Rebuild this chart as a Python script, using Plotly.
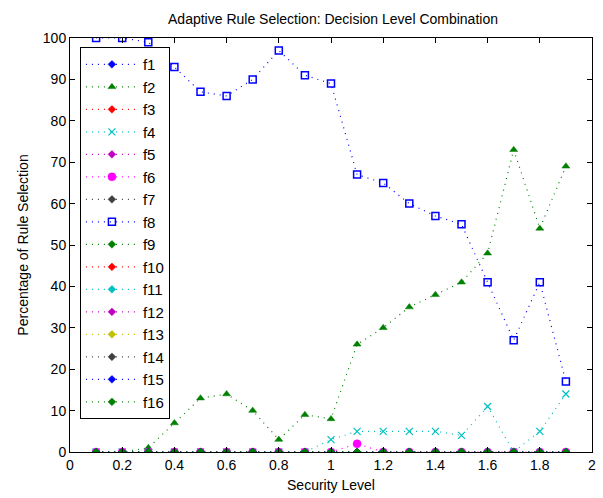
import plotly.graph_objects as go

# Security levels (x) and percentage of rule selection per feature rule
security_level = [0.1, 0.2, 0.3, 0.4, 0.5, 0.6, 0.7, 0.8, 0.9, 1.0,
                  1.1, 1.2, 1.3, 1.4, 1.5, 1.6, 1.7, 1.8, 1.9]

f1 = [0] * 19
f2 = [0, 0, 1, 7, 13, 14, 10, 3, 9, 8, 26, 30, 35, 38, 41, 48, 73, 54, 69]
f3 = [0] * 19
f4 = [0, 0, 0, 0, 0, 0, 0, 0, 0, 3, 5, 5, 5, 5, 4, 11, 0, 5, 14]
f5 = [0] * 19
f6 = [0, 0, 0, 0, 0, 0, 0, 0, 0, 0, 2, 0, 0, 0, 0, 0, 0, 0, 0]
f7 = [0] * 19
f8 = [100, 100, 99, 93, 87, 86, 90, 97, 91, 89, 67, 65, 60, 57, 55, 41, 27, 41, 17]
f9 = [0] * 19
f10 = [0] * 19
f11 = [0] * 19
f12 = [0] * 19
f13 = [0] * 19
f14 = [0] * 19
f15 = [0] * 19
f16 = [0] * 19

x_ticks = [0, 0.2, 0.4, 0.6, 0.8, 1, 1.2, 1.4, 1.6, 1.8, 2]
x_tick_labels = ["0", "0.2", "0.4", "0.6", "0.8", "1", "1.2", "1.4", "1.6", "1.8", "2"]
y_ticks = list(range(0, 101, 10))

BLUE = "#0000ff"
GREEN = "#008000"
RED = "#ff0000"
CYAN = "#00c0c0"
MAGENTA = "#c000c0"
BRIGHT_MAGENTA = "#ff00ff"
YELLOW = "#c0c000"
GRAY = "#404040"

series = [
    ("f1", f1, BLUE, "diamond", 6),
    ("f2", f2, GREEN, "triangle-up", 7),
    ("f3", f3, RED, "diamond", 6),
    ("f4", f4, CYAN, "x-thin", 7),
    ("f5", f5, MAGENTA, "diamond", 6),
    ("f6", f6, BRIGHT_MAGENTA, "circle", 8),
    ("f7", f7, GRAY, "diamond", 6),
    ("f8", f8, BLUE, "square-open", 7),
    ("f9", f9, GREEN, "diamond", 6),
    ("f10", f10, RED, "diamond", 6),
    ("f11", f11, CYAN, "diamond", 6),
    ("f12", f12, MAGENTA, "diamond", 6),
    ("f13", f13, YELLOW, "diamond", 6),
    ("f14", f14, GRAY, "diamond", 6),
    ("f15", f15, BLUE, "diamond", 6),
    ("f16", f16, GREEN, "diamond", 6),
]

fig = go.Figure()
for name, values, color, symbol, size in series:
    marker = dict(symbol=symbol, size=size, color=color)
    if symbol == "x-thin":
        marker["line"] = dict(color=color, width=1.2)
    elif symbol == "square-open":
        marker["line"] = dict(color=color, width=1.5)
    else:
        marker["line"] = dict(color=color, width=0.5)
    fig.add_trace(go.Scatter(
        x=security_level, y=values, name=name, mode="lines+markers",
        line=dict(color=color, width=1.2, dash="1px,5px"),
        marker=marker,
    ))

axis_common = dict(
    showgrid=False, zeroline=False, showline=True, linecolor="black",
    linewidth=1, mirror="ticks", ticks="inside", ticklen=5,
    tickcolor="black", tickfont=dict(size=14, color="black"),
)

fig.update_layout(
    width=603, height=498,
    margin=dict(l=70, r=7, t=38, b=46),
    paper_bgcolor="white", plot_bgcolor="white",
    font=dict(family="Liberation Sans, Arial, sans-serif", color="black"),
    title=dict(text="Adaptive Rule Selection: Decision Level Combination",
               x=333 / 603, xanchor="center", y=1 - 19 / 498,
               yanchor="middle", font=dict(size=14)),
    xaxis=dict(range=[0, 2], tickvals=x_ticks, ticktext=x_tick_labels,
               title=dict(text="Security Level", font=dict(size=14), standoff=8),
               **axis_common),
    yaxis=dict(range=[0, 100], tickvals=y_ticks,
               title=dict(text="Percentage of Rule Selection", font=dict(size=14), standoff=10),
               **axis_common),
    legend=dict(x=0.019, y=0.978, xanchor="left", yanchor="top",
                bgcolor="white", bordercolor="black", borderwidth=1,
                font=dict(size=15), itemwidth=52, tracegroupgap=0),
    showlegend=True,
)

fig.write_html("out.html")
